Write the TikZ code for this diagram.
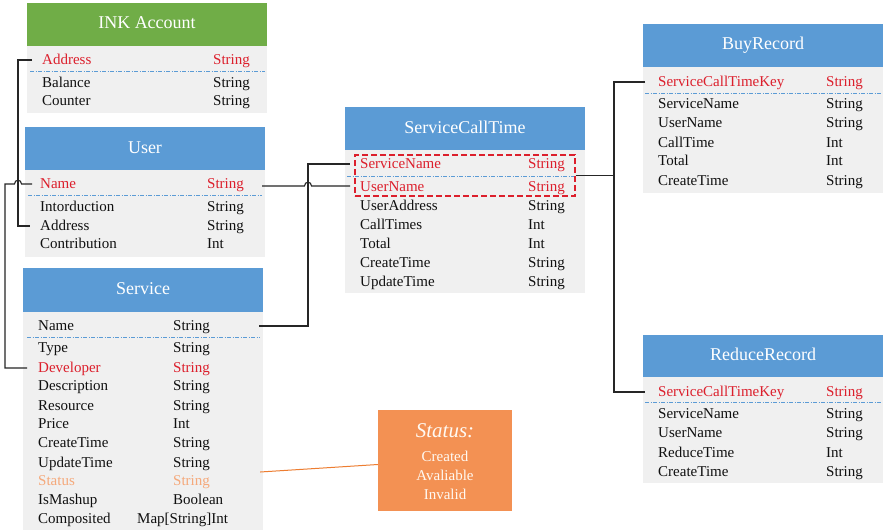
\documentclass[tikz,border=0pt]{standalone}
\usepackage{fontspec}
\setmainfont{Liberation Serif}
\definecolor{hgreen}{HTML}{70AD47}
\definecolor{hblue}{HTML}{5B9BD5}
\definecolor{bodygray}{HTML}{F0F0F0}
\definecolor{keyred}{HTML}{DC1F2C}
\definecolor{stortext}{HTML}{F5A97B}
\definecolor{boxor}{HTML}{F39153}
\definecolor{lineor}{HTML}{ED7D31}
\definecolor{txt}{HTML}{101010}
\begin{document}
\begin{tikzpicture}[x=1pt,y=-1pt,
  hdr/.style={draw=none, inner sep=0pt, text=white, font=\fontsize{18}{18}\selectfont, text height=12pt, text depth=3pt},
  bodybox/.style={draw=none, fill=bodygray, inner sep=0pt},
  fld/.style={anchor=west, inner sep=0pt, text=txt, font=\fontsize{15}{15}\selectfont, text height=11pt, text depth=2pt},
  keyc/.style={text=keyred},
  stc/.style={text=stortext},
  sep/.style={draw=hblue, line width=0.8pt, dash pattern=on 4pt off 1.5pt on 1pt off 1.5pt},
  conn/.style={draw=black!85, line width=1.1pt},
  sttext/.style={inner sep=0pt, text=white!95!orange, font=\fontsize{15}{15}\selectfont, text height=11pt, text depth=2pt}
]
\useasboundingbox (0,0) rectangle (885,532);
\fill[white] (0,0) rectangle (885,532);

% ---------------- INK Account
\node[hdr, fill=hgreen, minimum width=240, minimum height=43] (inkh) at (147,24.5) {INK Account};
\node[bodybox, minimum width=240, minimum height=67] (inkb) at (147,79.5) {};
\node[fld, keyc] (ink1) at (42,60) {Address};
\node[fld, keyc] (ink1t) at (213,60) {String};
\node[fld] (ink2) at (42,83) {Balance};
\node[fld] (ink2t) at (213,83) {String};
\node[fld] (ink3) at (42,101) {Counter};
\node[fld] (ink3t) at (213,101) {String};
\draw[sep] (30,71) -- (265,71);

% ---------------- User
\node[hdr, fill=hblue, minimum width=240, minimum height=43] (userh) at (145,148.5) {User};
\node[bodybox, minimum width=240, minimum height=87] (userb) at (145,213.5) {};
\node[fld, keyc] (uname) at (40,184) {Name};
\node[fld, keyc] (unamet) at (207,184) {String};
\node[fld] (uintro) at (40,207) {Intorduction};
\node[fld] (uintrot) at (207,207) {String};
\node[fld] (uaddr) at (40,226) {Address};
\node[fld] (uaddrt) at (207,226) {String};
\node[fld] (ucontr) at (40,244) {Contribution};
\node[fld] (ucontrt) at (207,244) {Int};
\draw[sep] (28,195) -- (262,195);

% ---------------- Service
\node[hdr, fill=hblue, minimum width=240, minimum height=44] (svch) at (143,290) {Service};
\node[bodybox, minimum width=240, minimum height=218] (svcb) at (143,421) {};
\node[fld] (sname) at (38,326) {Name};
\node[fld] (snamet) at (173,326) {String};
\node[fld] (stype) at (38,348) {Type};
\node[fld] (stypet) at (173,348) {String};
\node[fld, keyc] (sdev) at (38,368) {Developer};
\node[fld, keyc] (sdevt) at (173,368) {String};
\node[fld] (sdesc) at (38,386) {Description};
\node[fld] (sdesct) at (173,386) {String};
\node[fld] (sres) at (38,406) {Resource};
\node[fld] (srest) at (173,406) {String};
\node[fld] (sprice) at (38,424) {Price};
\node[fld] (spricet) at (173,424) {Int};
\node[fld] (sct1) at (38,443) {CreateTime};
\node[fld] (sct1t) at (173,443) {String};
\node[fld] (sut1) at (38,463) {UpdateTime};
\node[fld] (sut1t) at (173,463) {String};
\node[fld, stc] (sstat) at (38,481) {Status};
\node[fld, stc] (sstatt) at (173,481) {String};
\node[fld] (smash) at (38,500) {IsMashup};
\node[fld] (smasht) at (173,500) {Boolean};
\node[fld] (scomp) at (38,519) {Composited};
\node[fld] (scompt) at (137,519) {Map[String]Int};
\draw[sep] (27,337) -- (260,337);

% ---------------- ServiceCallTime
\node[hdr, fill=hblue, minimum width=240, minimum height=43] (scth) at (465,128.5) {ServiceCallTime};
\node[bodybox, minimum width=240, minimum height=143] (sctb) at (465,221.5) {};
\node[fld, keyc] (ctsvc) at (360,164) {ServiceName};
\node[fld, keyc] (ctsvct) at (528,164) {String};
\node[fld, keyc] (ctuser) at (360,187) {UserName};
\node[fld, keyc] (ctusert) at (528,187) {String};
\node[fld] (ctaddr) at (360,206) {UserAddress};
\node[fld] (ctaddrt) at (528,206) {String};
\node[fld] (ctcall) at (360,225) {CallTimes};
\node[fld] (ctcallt) at (528,225) {Int};
\node[fld] (cttot) at (360,244) {Total};
\node[fld] (cttott) at (528,244) {Int};
\node[fld] (ctcre) at (360,263) {CreateTime};
\node[fld] (ctcret) at (528,263) {String};
\node[fld] (ctupd) at (360,282) {UpdateTime};
\node[fld] (ctupdt) at (528,282) {String};
\draw[sep] (347,176) -- (575,176);
\node[draw=keyred, dash pattern=on 6pt off 3pt, line width=1.2pt, inner sep=0pt, minimum width=220, minimum height=41] (redbox) at (465,175.5) {};

% ---------------- BuyRecord
\node[hdr, fill=hblue, minimum width=240, minimum height=43] (buyh) at (763,45.5) {BuyRecord};
\node[bodybox, minimum width=240, minimum height=126] (buyb) at (763,130) {};
\node[fld, keyc] (bkey) at (658,82) {ServiceCallTimeKey};
\node[fld, keyc] (bkeyt) at (826,82) {String};
\node[fld] (bsvc) at (658,104) {ServiceName};
\node[fld] (bsvct) at (826,104) {String};
\node[fld] (buser) at (658,123) {UserName};
\node[fld] (busert) at (826,123) {String};
\node[fld] (bcall) at (658,143) {CallTime};
\node[fld] (bcallt) at (826,143) {Int};
\node[fld] (btot) at (658,161) {Total};
\node[fld] (btott) at (826,161) {Int};
\node[fld] (bcre) at (658,181) {CreateTime};
\node[fld] (bcret) at (826,181) {String};
\draw[sep] (645,93) -- (881,93);

% ---------------- ReduceRecord
\node[hdr, fill=hblue, minimum width=240, minimum height=42] (redh) at (763,356) {ReduceRecord};
\node[bodybox, minimum width=240, minimum height=106] (redb) at (763,430) {};
\node[fld, keyc] (rkey) at (658,392) {ServiceCallTimeKey};
\node[fld, keyc] (rkeyt) at (826,392) {String};
\node[fld] (rsvc) at (658,414) {ServiceName};
\node[fld] (rsvct) at (826,414) {String};
\node[fld] (ruser) at (658,433) {UserName};
\node[fld] (rusert) at (826,433) {String};
\node[fld] (rred) at (658,453) {ReduceTime};
\node[fld] (rredt) at (826,453) {Int};
\node[fld] (rcre) at (658,472) {CreateTime};
\node[fld] (rcret) at (826,472) {String};
\draw[sep] (645,402) -- (881,402);

% ---------------- Status box
\node[draw=none, fill=boxor, inner sep=0pt, minimum width=134, minimum height=101] (stbox) at (445,460.5) {};
\node[sttext, font=\fontsize{21}{21}\selectfont\itshape, text height=14pt, text depth=3pt] (st1) at (445,432) {Status:};
\node[sttext] (st2) at (445,457) {Created};
\node[sttext] (st3) at (445,476) {Avaliable};
\node[sttext] (st4) at (445,495) {Invalid};

% ---------------- connectors
\coordinate (busA) at (18,0);
\coordinate (busB) at (5,0);
\coordinate (busC) at (308,0);
\coordinate (busD) at (614,0);

% INK Address -> User Address
\draw[conn] ([xshift=-10pt]ink1.west) -- (ink1.west -| busA) -- (uaddr.west -| busA) -- ([xshift=-10pt]uaddr.west);

% User Name -> Service Developer (hop over busA)
\coordinate (hopA) at (uname.west -| busA);
\draw[conn] ([xshift=-8pt]uname.west) -- ([xshift=3.5pt]hopA)
  .. controls ([xshift=3.5pt,yshift=5pt]hopA) and ([xshift=-3.5pt,yshift=5pt]hopA) .. ([xshift=-3.5pt]hopA)
  -- (uname.west -| busB) -- (sdev.west -| busB) -- ([xshift=-11pt]sdev.west);

% User Name -> ServiceCallTime UserName (hop over busC)
\coordinate (hopC) at ([yshift=-2pt]unamet.east -| busC);
\draw[conn] ([xshift=-3pt,yshift=-2pt]userb.east |- unamet.east) -- ([xshift=-3.5pt]hopC)
  .. controls ([xshift=-3.5pt,yshift=5pt]hopC) and ([xshift=3.5pt,yshift=5pt]hopC) .. ([xshift=3.5pt]hopC)
  -- ([xshift=-10pt,yshift=-2pt]ctuser.west |- unamet.east);

% Service Name -> ServiceCallTime ServiceName
\draw[conn] ([xshift=-4pt]svcb.east |- sname.east) -- (sname.east -| busC) -- (ctsvc.west -| busC) -- ([xshift=-10pt]ctsvc.west);

% ServiceCallTime key -> BuyRecord / ReduceRecord
\draw[conn] (redbox.east) -- (redbox.east -| busD);
\draw[conn] ([xshift=-13pt]bkey.west) -- (bkey.west -| busD) -- (rkey.west -| busD) -- ([xshift=-13pt]rkey.west);

% Status -> Status box
\draw[draw=lineor, line width=1pt] ([xshift=-3pt,yshift=9pt]svcb.east |- sstat.east) -- ([yshift=-4pt]stbox.west);
\end{tikzpicture}
\end{document}
